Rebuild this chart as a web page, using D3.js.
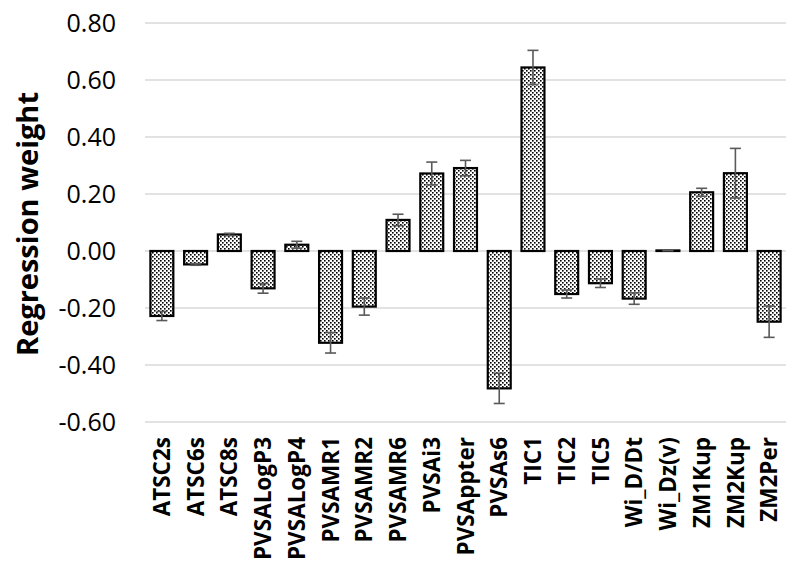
<!DOCTYPE html>
<html>
<head>
<meta charset="utf-8">
<script src="https://cdn.jsdelivr.net/npm/d3@7/dist/d3.min.js"></script>
<style>
  html, body { margin: 0; padding: 0; background: #fff; }
  svg { display: block; }
</style>
</head>
<body>
<svg id="chart" width="800" height="577"></svg>
<script>
const categories = ["ATSC2s","ATSC6s","ATSC8s","PVSALogP3","PVSALogP4","PVSAMR1","PVSAMR2","PVSAMR6","PVSAi3","PVSAppter","PVSAs6","TIC1","TIC2","TIC5","Wi_D/Dt","Wi_Dz(v)","ZM1Kup","ZM2Kup","ZM2Per"];
const weights    = [-0.228,-0.047,0.058,-0.131,0.022,-0.322,-0.195,0.109,0.272,0.291,-0.482,0.644,-0.151,-0.113,-0.167,0.002,0.206,0.273,-0.248];
const errors     = [0.016,0.003,0.004,0.017,0.012,0.036,0.030,0.020,0.040,0.027,0.053,0.060,0.014,0.015,0.020,0.001,0.014,0.087,0.055];
const yTicks     = [-0.60,-0.40,-0.20,0.00,0.20,0.40,0.60,0.80];
const yTitle     = "Regression weight";

const svg = d3.select("#chart");

const defs = svg.append("defs");
const pat = defs.append("pattern")
  .attr("id", "dots").attr("patternUnits", "userSpaceOnUse")
  .attr("width", 4).attr("height", 4);
pat.append("rect").attr("width", 4).attr("height", 4).attr("fill", "#fff");
pat.append("rect").attr("x", 0).attr("y", 0).attr("width", 1.6).attr("height", 1.6).attr("fill", "#000");
pat.append("rect").attr("x", 2).attr("y", 2).attr("width", 1.6).attr("height", 1.6).attr("fill", "#000");

const x = d3.scaleBand().domain(categories).range([145, 786]).paddingInner(0.32).paddingOuter(0.16);
const y = d3.scaleLinear().domain([-0.6, 0.8]).range([422, 23]);

// gridlines
svg.append("g").selectAll("line").data(yTicks).join("line")
  .attr("x1", 145).attr("x2", 786)
  .attr("y1", d => y(d)).attr("y2", d => y(d))
  .attr("stroke", "#d9d9d9").attr("stroke-width", 1.5);

// y axis labels
const fmt = d3.format(".2f");
const yAxis = d3.axisLeft(y).tickValues(yTicks).tickFormat(d => fmt(d).replace("\u2212", "-")).tickSize(0).tickPadding(0);
const gy = svg.append("g").attr("transform", "translate(116,0)").call(yAxis);
gy.select(".domain").remove();
gy.selectAll("text")
  .attr("font-family", "'Open Sans', sans-serif").attr("font-size", 25)
  .attr("fill", "#000").attr("dy", "0.35em");

// bars
svg.append("g").selectAll("rect").data(categories).join("rect")
  .attr("x", d => x(d))
  .attr("width", x.bandwidth())
  .attr("y", (d, i) => y(Math.max(0, weights[i])))
  .attr("height", (d, i) => Math.abs(y(weights[i]) - y(0)))
  .attr("fill", "url(#dots)")
  .attr("stroke", "#000").attr("stroke-width", 2.2);

// error bars
const eb = svg.append("g").attr("stroke", "#595959").attr("stroke-width", 1.6);
categories.forEach((c, i) => {
  const cx = x(c) + x.bandwidth() / 2;
  const lo = y(weights[i] - errors[i]), hi = y(weights[i] + errors[i]);
  eb.append("line").attr("x1", cx).attr("x2", cx).attr("y1", lo).attr("y2", hi);
  eb.append("line").attr("x1", cx - 5.5).attr("x2", cx + 5.5).attr("y1", lo).attr("y2", lo);
  eb.append("line").attr("x1", cx - 5.5).attr("x2", cx + 5.5).attr("y1", hi).attr("y2", hi);
});

// x labels
const xAxis = d3.axisBottom(x).tickSize(0).tickPadding(0);
const gx = svg.append("g").attr("transform", "translate(0,437)").call(xAxis);
gx.select(".domain").remove();
gx.selectAll("text")
  .attr("font-family", "'Open Sans', sans-serif").attr("font-size", 22.5).attr("font-weight", "bold")
  .attr("fill", "#000")
  .attr("text-anchor", "end")
  .attr("transform", "rotate(-90)")
  .attr("x", 0).attr("y", 0).attr("dy", "0.36em");

// y title
svg.append("text")
  .attr("transform", "translate(38,224) rotate(-90)")
  .attr("text-anchor", "middle")
  .attr("font-family", "'Open Sans', sans-serif").attr("font-size", 29).attr("font-weight", "bold")
  .attr("fill", "#000")
  .text(yTitle);
</script>
</body>
</html>
